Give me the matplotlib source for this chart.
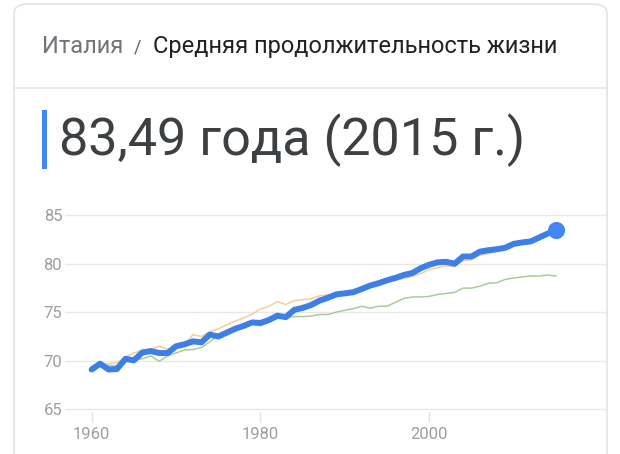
import matplotlib
matplotlib.use("Agg")
import matplotlib.pyplot as plt
from matplotlib.patches import FancyBboxPatch, Rectangle
from matplotlib.lines import Line2D

# data
years = list(range(1960, 2016))
italy = [69.1, 69.7, 69.1, 69.15, 70.2, 70.05, 70.85, 71.0, 70.8, 70.8,
         71.5, 71.7, 72.0, 71.9, 72.7, 72.5, 72.9, 73.3, 73.6, 73.95,
         73.9, 74.2, 74.65, 74.5, 75.25, 75.45, 75.75, 76.2, 76.5, 76.85,
         76.95, 77.07, 77.4, 77.75, 78.0, 78.3, 78.55, 78.85, 79.05, 79.55,
         79.9, 80.15, 80.2, 80.0, 80.75, 80.75, 81.25, 81.4, 81.5, 81.65,
         82.05, 82.2, 82.3, 82.7, 83.1, 83.49]
orange = [69.1, 69.6, 69.7, 69.8, 70.4, 70.8, 71.1, 71.2, 71.5, 71.2,
          71.4, 71.6, 72.7, 72.5, 73.0, 73.3, 73.7, 74.1, 74.4, 74.8,
          75.35, 75.6, 76.1, 75.8, 76.2, 76.3, 76.4, 76.7, 76.8, 76.8,
          76.9, 77.0, 77.4, 77.6, 77.9, 78.1, 78.3, 78.5, 78.7, 79.0,
          79.4, 79.6, 79.8, 79.7, 80.3, 80.4, 80.9, 81.0, 81.3, 81.5,
          81.9, 82.2, 82.3, 82.7, 83.0, 83.2]
green = [69.4, 69.6, 69.5, 69.5, 70.0, 70.1, 70.2, 70.5, 69.95, 70.5,
         70.81, 71.11, 71.16, 71.36, 71.96, 72.6, 72.86, 73.26, 73.36, 73.8,
         73.61, 74.01, 74.36, 74.46, 74.56, 74.56, 74.61, 74.77, 74.77, 75.02,
         75.21, 75.37, 75.62, 75.42, 75.62, 75.62, 76.03, 76.43, 76.58, 76.58,
         76.64, 76.84, 76.94, 77.04, 77.49, 77.49, 77.69, 77.99, 78.04, 78.39,
         78.54, 78.64, 78.74, 78.74, 78.84, 78.74]
y_ticks = [65, 70, 75, 80, 85]
x_ticks = [1960, 1980, 2000]

W, H = 620, 454
plt.rcParams['font.family'] = ['Roboto', 'DejaVu Sans']
fig = plt.figure(figsize=(W / 100, H / 100), dpi=100)
fig.patch.set_facecolor("white")


def fx(px):
    return px / W


def fy(py):
    return 1 - py / H


# card
card = FancyBboxPatch((fx(14), fy(470)), fx(607) - fx(14), fy(4) - fy(470),
                      boxstyle="round,pad=0,rounding_size=0.022",
                      transform=fig.transFigure, facecolor="white",
                      edgecolor="#e3e3e3", linewidth=1.2, zorder=0)
fig.add_artist(card)
fig.add_artist(Line2D([fx(14), fx(607)], [fy(88), fy(88)],
                      transform=fig.transFigure, color="#e6e6e6", lw=1.2))

# header
fig.text(fx(42), fy(52.7), "Италия", fontsize=17, color="#70757a", va="baseline")
fig.text(fx(134), fy(52.7), "/", fontsize=13, color="#5f6368", va="baseline")
fig.text(fx(153), fy(52.7), "Средняя продолжительность жизни", fontsize=17,
         color="#202124", va="baseline")

fig.add_artist(Rectangle((fx(41.7), fy(169)), fx(4.8), fy(110) - fy(169),
                         transform=fig.transFigure, color="#4285f4", lw=0))
fig.text(fx(59), fy(155), "83,49 года (2015 г.)", fontsize=37.5,
         color="#3c4043", va="baseline")

# chart
ax = fig.add_axes([fx(65), fy(412), fx(606) - fx(65), fy(205) - fy(412)])
ax.set_facecolor("none")
ax.set_xlim(1956.84, 2020.94)
ax.set_ylim(64.72, 86.06)

ax.plot(years, green, color="#a9cc9c", lw=1.1, zorder=2)
ax.plot(years, orange, color="#f4cf94", lw=1.1, zorder=3)
ax.plot(years, italy, color="#3d7fe6", lw=4.3, solid_joinstyle="round",
        solid_capstyle="round", zorder=4)
ax.plot(years[-1], italy[-1], "o", color="#4285f4", markersize=11.3, zorder=5)

ax.set_yticks(y_ticks)
ax.set_xticks(x_ticks)
ax.grid(axis="y", color="#e8e8e8", lw=1)
for s in ax.spines.values():
    s.set_visible(False)
ax.tick_params(axis="y", length=0, pad=2, labelsize=12, labelcolor="#9e9e9e")
ax.tick_params(axis="x", length=7, width=1, color="#e0e0e0", pad=4,
               labelsize=12, labelcolor="#9e9e9e")

fig.savefig("out.png", dpi=100)
